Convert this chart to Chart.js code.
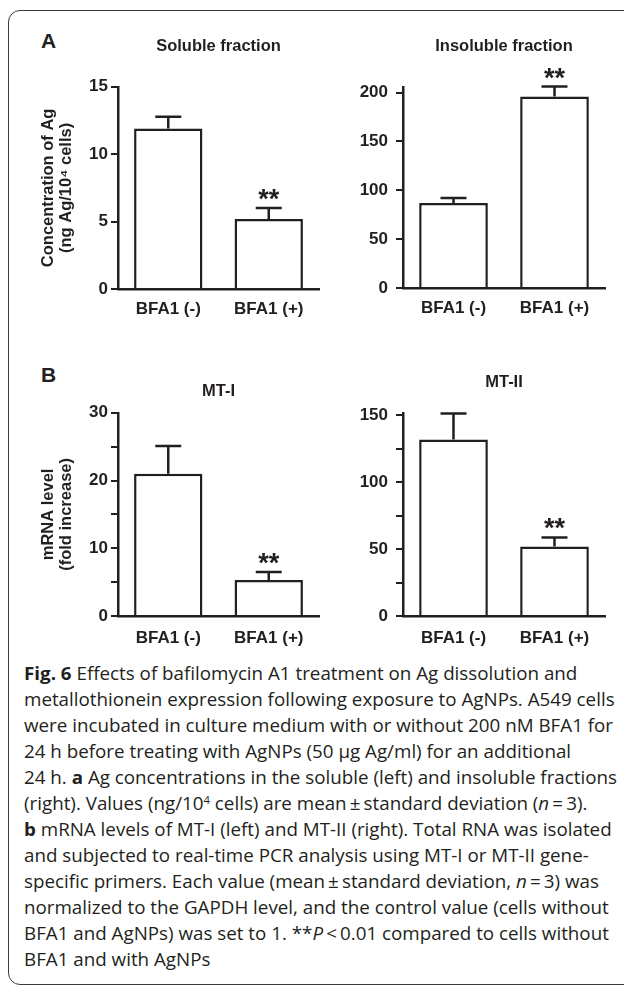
<!DOCTYPE html>
<html>
<head>
<meta charset="utf-8">
<script src="https://cdn.jsdelivr.net/npm/chart.js@4.4.0/dist/chart.umd.min.js"></script>
<style>
  html, body { margin: 0; padding: 0; background: #fff; }
  body { width: 624px; height: 987px; position: relative; overflow: hidden; }
  #frame {
    position: absolute; left: 8px; top: 10px; width: 660px; height: 975px;
    border: 1.5px solid #3a3a3a; border-radius: 12px; box-sizing: border-box;
  }
  canvas { position: absolute; }
  .panel {
    position: absolute; font: bold 21px 'Liberation Sans', Arial, sans-serif;
    line-height: 1; color: #231f20;
  }
  #caption {
    position: absolute; left: 24px; top: 660px; color: #231f20;
    font: 18px 'Open Sans', sans-serif; line-height: 26px; transform-origin: 0 0;
  }
  #caption .ln { white-space: nowrap; }
  #caption b { font-weight: 700; }
  #caption sup { font-size: 0.6em; line-height: 0; position: relative; top: -0.55em; vertical-align: baseline; }
</style>
</head>
<body>
<div id="frame"></div>
<div class="panel" style="left:41px; top:30px;">A</div>
<div class="panel" style="left:41px; top:364px;">B</div>

<canvas id="solubleChart" width="322" height="318" style="left:8px; top:12px;"></canvas>
<canvas id="insolubleChart" width="294" height="318" style="left:330px; top:12px;"></canvas>
<canvas id="mt1Chart" width="322" height="320" style="left:8px; top:340px;"></canvas>
<canvas id="mt2Chart" width="294" height="320" style="left:330px; top:340px;"></canvas>

<div id="caption">
  <div class="ln" data-w="556"><b>Fig. 6</b> Effects of bafilomycin A1 treatment on Ag dissolution and</div>
  <div class="ln" data-w="585">metallothionein expression following exposure to AgNPs. A549 cells</div>
  <div class="ln" data-w="586">were incubated in culture medium with or without 200 nM BFA1 for</div>
  <div class="ln" data-w="548">24 h before treating with AgNPs (50 μg Ag/ml) for an additional</div>
  <div class="ln" data-w="598">24 h. <b>a</b> Ag concentrations in the soluble (left) and insoluble fractions</div>
  <div class="ln">(right). Values (ng/10<sup>4</sup> cells) are mean&thinsp;±&thinsp;standard deviation (<i>n</i>&thinsp;=&thinsp;3).</div>
  <div class="ln"><b>b</b> mRNA levels of MT-I (left) and MT-II (right). Total RNA was isolated</div>
  <div class="ln">and subjected to real-time PCR analysis using MT-I or MT-II gene-</div>
  <div class="ln">specific primers. Each value (mean&thinsp;±&thinsp;standard deviation, <i>n</i>&thinsp;=&thinsp;3) was</div>
  <div class="ln">normalized to the GAPDH level, and the control value (cells without</div>
  <div class="ln">BFA1 and AgNPs) was set to 1. **<i>P</i>&thinsp;&lt;&thinsp;0.01 compared to cells without</div>
  <div class="ln">BFA1 and with AgNPs</div>
</div>

<script>
// categories shared by all four panels
const categories = ['BFA1 (-)', 'BFA1 (+)'];
// ** marks (P < 0.01) per category
const significant = [false, true];

// A: soluble fraction (ng Ag/10^4 cells)
const solubleMean = [11.9, 5.2];
const solubleErr = [0.88, 0.8];
const solubleTicks = [0, 5, 10, 15];

// A: insoluble fraction
const insolubleMean = [87, 196];
const insolubleErr = [5.2, 10.2];
const insolubleTicks = [0, 50, 100, 150, 200];

// B: MT-I mRNA (fold increase)
const mt1Mean = [21.0, 5.3];
const mt1Err = [4.1, 1.2];
const mt1Ticks = [0, 5, 10, 15, 20, 25, 30];
const mt1Labels = [0, 10, 20, 30];

// B: MT-II mRNA (fold increase)
const mt2Mean = [132, 52];
const mt2Err = [19.5, 6.8];
const mt2Ticks = [0, 25, 50, 75, 100, 125, 150];
const mt2Labels = [0, 50, 100, 150];

const ink = '#231f20';
const labelFont = "'Liberation Sans', Arial, sans-serif";
Chart.defaults.font.family = labelFont;
Chart.defaults.color = ink;

// one-sided error bars and ** markers, placed through the y scale
const errorBars = {
    id: 'errorBars',
    afterDatasetsDraw(chart, args, opts) {
        const ctx = chart.ctx;
        const yScale = chart.scales.y;
        const meta = chart.getDatasetMeta(0);
        const ds = chart.data.datasets[0];
        ctx.save();
        ctx.strokeStyle = ink;
        ctx.fillStyle = ink;
        ctx.lineWidth = 2.5;
        meta.data.forEach((bar, i) => {
            const top = yScale.getPixelForValue(ds.data[i] + opts.err[i]);
            ctx.beginPath();
            ctx.moveTo(bar.x, bar.y);
            ctx.lineTo(bar.x, top);
            ctx.moveTo(bar.x - 13, top);
            ctx.lineTo(bar.x + 13, top);
            ctx.stroke();
            if (significant[i]) {
                ctx.font = 'bold 27px ' + labelFont;
                ctx.textAlign = 'center';
                ctx.textBaseline = 'alphabetic';
                const m = ctx.measureText('**');
                const centre = top - 13.5;
                const base = centre - (m.actualBoundingBoxDescent - m.actualBoundingBoxAscent) / 2;
                ctx.fillText('**', bar.x, base);
            }
        });
        ctx.restore();
    }
};

function makeChart(id, cfg) {
    return new Chart(document.getElementById(id), {
        type: 'bar',
        data: {
            labels: categories,
            datasets: [{
                data: cfg.mean,
                backgroundColor: '#ffffff',
                borderColor: ink,
                borderWidth: 2.5,
                borderSkipped: 'bottom',
                barPercentage: 0.68,
                categoryPercentage: 1.0
            }]
        },
        plugins: [errorBars],
        options: {
            responsive: false,
            animation: false,
            events: [],
            layout: { padding: { left: 0, top: 0, right: cfg.padRight, bottom: 0 } },
            plugins: {
                legend: { display: false },
                tooltip: { enabled: false },
                errorBars: { err: cfg.err },
                title: {
                    display: true,
                    text: cfg.title,
                    fullSize: false,
                    color: ink,
                    font: { size: 16.5, weight: 'bold', lineHeight: 1.2 },
                    padding: { top: cfg.titleTop, bottom: cfg.titleBottom }
                }
            },
            scales: {
                x: {
                    grid: { display: false, drawTicks: false },
                    border: { display: true, color: ink, width: 2.5 },
                    ticks: { color: ink, padding: cfg.xPad, font: { size: 17, weight: 'bold' } },
                    afterFit(scale) { scale.height = cfg.xHeight; }
                },
                y: {
                    min: 0,
                    max: cfg.max,
                    afterBuildTicks(scale) {
                        scale.ticks = cfg.ticks.map(v => ({ value: v }));
                    },
                    afterFit(scale) { scale.width = cfg.yWidth; },
                    grid: {
                        display: true, drawOnChartArea: false, drawTicks: true,
                        tickLength: 7, color: ink, lineWidth: 2
                    },
                    border: { display: true, color: ink, width: 2.5 },
                    ticks: {
                        color: ink,
                        padding: cfg.yPad,
                        font: { size: 17, weight: 'bold' },
                        callback: (v) => (cfg.labels.includes(v) ? String(v) : '')
                    },
                    title: {
                        display: !!cfg.yTitle,
                        text: cfg.yTitle,
                        color: ink,
                        font: { size: 16.5, weight: 'bold', lineHeight: 1.1 },
                        padding: { top: 31, bottom: 0 }
                    }
                }
            }
        }
    });
}

makeChart('solubleChart', {
    title: 'Soluble fraction', mean: solubleMean, err: solubleErr,
    max: 15, ticks: solubleTicks, labels: solubleTicks,
    yTitle: ['Concentration of Ag', '(ng Ag/10\u2074 cells)'],
    yWidth: 110, yPad: 3, padRight: 11, xHeight: 41, xPad: 10,
    titleTop: 25, titleBottom: 30
});

makeChart('insolubleChart', {
    title: 'Insoluble fraction', mean: insolubleMean, err: insolubleErr,
    max: 206, ticks: insolubleTicks, labels: insolubleTicks,
    yTitle: null,
    yWidth: 73, yPad: 8, padRight: 19, xHeight: 42, xPad: 10,
    titleTop: 25, titleBottom: 30
});

makeChart('mt1Chart', {
    title: 'MT-I', mean: mt1Mean, err: mt1Err,
    max: 30, ticks: mt1Ticks, labels: mt1Labels,
    yTitle: ['mRNA level', '(fold increase)'],
    yWidth: 110, yPad: 3, padRight: 11, xHeight: 44, xPad: 12,
    titleTop: 42, titleBottom: 11
});

makeChart('mt2Chart', {
    title: 'MT-II', mean: mt2Mean, err: mt2Err,
    max: 152, ticks: mt2Ticks, labels: mt2Labels,
    yTitle: null,
    yWidth: 73, yPad: 8, padRight: 19, xHeight: 44, xPad: 12,
    titleTop: 33, titleBottom: 20
});

// squeeze the caption so its lines match the reference line widths
let targetSum = 0, naturalSum = 0;
document.querySelectorAll('#caption .ln[data-w]').forEach(el => {
    const r = document.createRange();
    r.selectNodeContents(el);
    naturalSum += r.getBoundingClientRect().width;
    targetSum += Number(el.dataset.w);
});
document.getElementById('caption').style.transform = 'scaleX(' + (targetSum / naturalSum) + ')';
</script>
</body>
</html>
